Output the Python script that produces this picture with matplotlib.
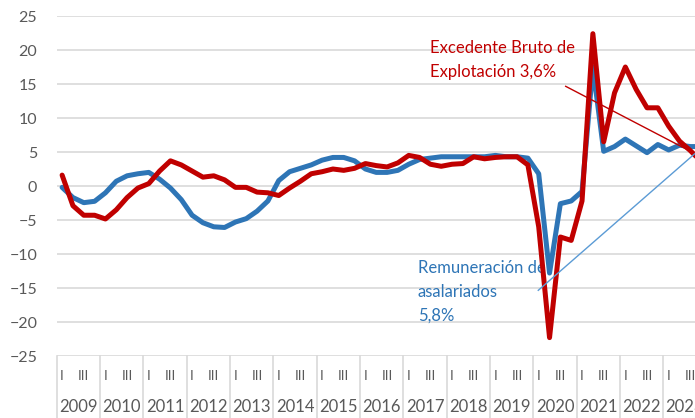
import matplotlib.pyplot as plt
import matplotlib.transforms as mtransforms
import numpy as np

# trimestres 2009T1 - 2023T4 (tasa interanual, %)
years = [str(y) for y in range(2009, 2024)]
quarter_labels = ['I', '', 'III', '']

remuneracion = [-0.2, -1.7, -2.45, -2.25, -1.0, 0.7, 1.5, 1.8,
                2.0, 1.0, -0.3, -2.0, -4.3, -5.4, -6.0, -6.1,
                -5.3, -4.8, -3.7, -2.2, 0.8, 2.1, 2.6, 3.1,
                3.8, 4.2, 4.2, 3.7, 2.5, 2.0, 2.0, 2.3,
                3.2, 3.9, 4.1, 4.3, 4.3, 4.3, 4.3, 4.3,
                4.5, 4.3, 4.3, 4.1, 1.8, -12.8, -2.6, -2.2,
                -0.8, 17.5, 5.1, 5.8, 6.9, 5.9, 4.9, 6.1,
                5.3, 6.0, 5.8, 5.8]

excedente = [1.6, -2.9, -4.3, -4.3, -4.85, -3.5, -1.7, -0.3,
             0.35, 2.2, 3.7, 3.1, 2.2, 1.3, 1.5, 0.9,
             -0.2, -0.2, -0.9, -1.0, -1.4, -0.3, 0.7, 1.8,
             2.1, 2.5, 2.3, 2.6, 3.3, 3.0, 2.8, 3.4,
             4.5, 4.2, 3.2, 2.9, 3.2, 3.3, 4.3, 4.0,
             4.2, 4.3, 4.3, 3.1, -6.0, -22.3, -7.5, -8.0,
             -2.2, 22.4, 6.5, 13.7, 17.5, 14.2, 11.5, 11.5,
             8.8, 6.6, 5.2, 3.6]

plt.rcParams['font.family'] = ['Lato', 'DejaVu Sans']

W, H = 695, 418
fig = plt.figure(figsize=(W / 100, H / 100), dpi=100)
# el grafico original esta recortado por la derecha
left, right, top, bottom = 56.7, 706.6, 16, 356
ax = fig.add_axes([left / W, 1 - bottom / H, (right - left) / W, (bottom - top) / H])

x = np.arange(len(remuneracion))
ax.plot(x, remuneracion, color='#2E75B6', lw=3.6, solid_joinstyle='round',
        solid_capstyle='round', zorder=3)
ax.plot(x, excedente, color='#C00000', lw=3.6, solid_joinstyle='round',
        solid_capstyle='round', zorder=3)

ax.set_xlim(-0.5, 59.5)
ax.set_ylim(-25, 25)
ax.set_yticks(range(-25, 30, 5))
ax.set_xticks([])
ax.tick_params(axis='y', length=0, pad=14, labelsize=11.5, labelcolor='#595959')
ax.grid(axis='y', color='#D9D9D9', lw=1.2, zorder=0)
ax.set_axisbelow(True)
for s in ax.spines.values():
    s.set_visible(False)

# eje de categorias (trimestre / año)
trans = mtransforms.blended_transform_factory(ax.transData, ax.transAxes)
for k in range(len(years) + 1):
    ax.plot([4 * k - 0.5] * 2, [0, -0.25], transform=trans, clip_on=False,
            color='#D9D9D9', lw=1.2)
for k, yr in enumerate(years):
    ax.text(4 * k + 1.5, -0.149, yr, transform=trans, ha='center', va='center',
            fontsize=12, color='#595959')
for i in range(len(x)):
    lab = quarter_labels[i % 4]
    if lab:
        ax.text(i, -0.058, lab, transform=trans, ha='center', va='center',
                fontsize=10, color='#595959')

# etiquetas
red_lines = ['Excedente Bruto de', 'Explotación 3,6%']
for j, t in enumerate(red_lines):
    ax.text(430 / W, 1 - (53 + 24 * j) / H, t, transform=fig.transFigure,
            fontsize=12, color='#C00000', va='baseline', zorder=1)
blue_lines = ['Remuneración de', 'asalariados', '5,8%']
for j, t in enumerate(blue_lines):
    ax.text(418 / W, 1 - (273 + 24 * j) / H, t, transform=fig.transFigure,
            fontsize=12, color='#2E75B6', va='baseline', zorder=1)

ax.plot([46.49, 59], [14.66, 4.28], color='#C00000', lw=1, zorder=4)
ax.plot([43.96, 59], [-15.34, 5.57], color='#5B9BD5', lw=1, zorder=4)

fig.savefig('out.png', dpi=100)
